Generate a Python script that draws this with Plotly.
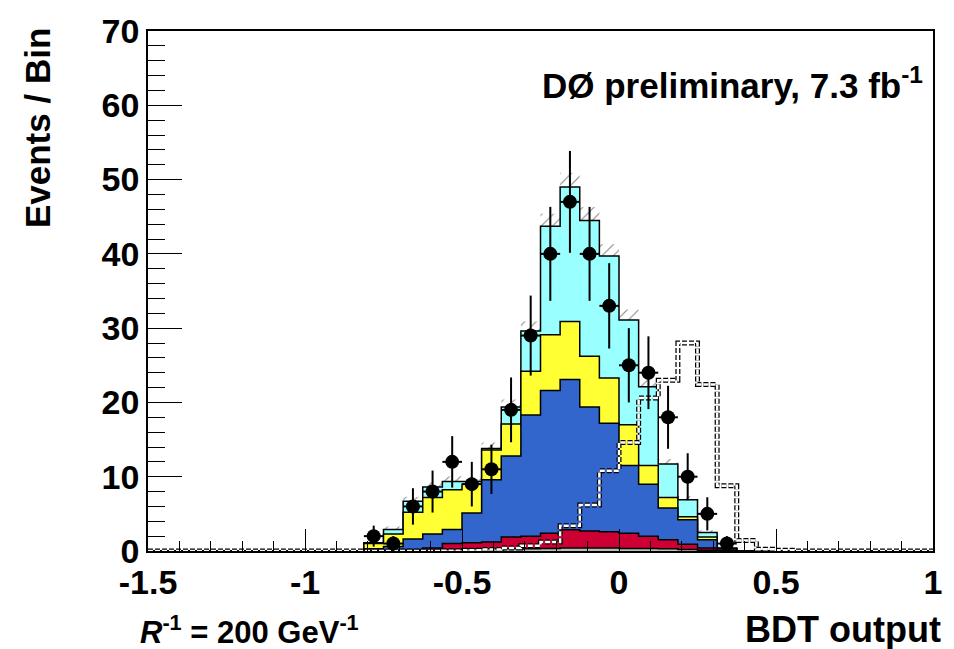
import numpy as np
import plotly.graph_objects as go

# ---------------- data ----------------
x_min, x_max, n_bins = -1.5, 1.0, 40
first_bin = 11  # populated background/data bins start at bin 11 (x=-0.8125)

# background components (stacked, bottom to top), bins 11..29
bkg_gray = [0.05, 0.05, 0.1, 0.1, 0.2, 0.3, 0.3, 0.3, 0.3, 0.35, 0.4, 0.4, 0.4, 0.35, 0.35, 0.3, 0.2, 0.1, 0.05]
bkg_red = [0.05, 0.1, 0.1, 0.3, 0.8, 0.8, 0.9, 1.6, 1.7, 2.05, 2.45, 2.3, 2.2, 2.05, 1.65, 1.2, 0.7, 0.3, 0.05]
bkg_blue = [0.2, 0.45, 1.4, 1.9, 1.9, 4.0, 8.4, 10.9, 16.3, 19.2, 20.25, 16.7, 14.6, 9.1, 7.0, 4.3, 3.3, 1.1, 0.2]
bkg_yellow = [0.7, 1.7, 3.6, 4.9, 5.35, 3.9, 4.0, 4.3, 5.9, 7.5, 7.8, 6.8, 6.1, 5.5, 2.5, 1.4, 0.4, 0.4, 0.05]
bkg_cyan = [0.1, 0.6, 1.5, 1.4, 1.1, 0.35, 0.2, 2.3, 5.4, 14.6, 18.1, 18.3, 16.4, 14.1, 10.6, 4.5, 2.3, 0.6, 0.05]
bkg_unc = [0.3, 0.4, 0.6, 0.7, 0.7, 0.7, 0.8, 1.0, 1.3, 1.7, 1.9, 1.8, 1.6, 1.4, 1.1, 0.7, 0.5, 0.3, 0.2]

data_counts = [2, 1, 6, 8, 12, 9, 11, 19, 29, 40, 47, 40, 33, 25, 24, 18, 10, 5, 1]

# signal (all 40 bins)
signal = [0, 0, 0, 0, 0, 0, 0, 0, 0, 0,
          0, 0, 0, 0, 0, 0.05, 0.1, 0.2, 0.4, 0.7,
          1.2, 3.4, 6.2, 10.8, 14.6, 20.6, 23.0, 28.0, 22.4, 8.8,
          1.4, 0.25, 0.1, 0, 0, 0, 0, 0, 0, 0]

x_ticks = [-1.5, -1.0, -0.5, 0.0, 0.5, 1.0]
x_tick_text = ["-1.5", "-1", "-0.5", "0", "0.5", "1"]
y_ticks = [0, 10, 20, 30, 40, 50, 60, 70]

# ---------------- helpers ----------------
edges = np.linspace(x_min, x_max, n_bins + 1)
bw = edges[1] - edges[0]
centers = 0.5 * (edges[:-1] + edges[1:])


def full(vals):
    arr = np.zeros(n_bins)
    arr[first_bin:first_bin + len(vals)] = vals
    return arr


def step_xy(vals):
    vals = list(vals)
    xs = [edges[0]] + list(edges) + [edges[-1]]
    ys = [0] + vals + [vals[-1]] + [0]
    return xs, ys


comps = [np.array(bkg_gray), np.array(bkg_red), np.array(bkg_blue),
         np.array(bkg_yellow), np.array(bkg_cyan)]
colors = ["#bdbdbd", "#cc0033", "#3366cc", "#ffff33", "#99ffff"]
cum = np.cumsum(np.vstack(comps), axis=0)

fig = go.Figure()

# stacked fills drawn from top (total) down
for i in range(len(comps) - 1, -1, -1):
    xs, ys = step_xy(full(cum[i]))
    fig.add_trace(go.Scatter(x=xs, y=ys, mode="lines", line_shape="hv",
                             fill="tozeroy", fillcolor=colors[i],
                             line=dict(color="black", width=1.5),
                             hoverinfo="skip", showlegend=False))

# signal: dashed black with white dashes
sx, sy = step_xy(signal)
fig.add_trace(go.Scatter(x=sx, y=sy, mode="lines", line_shape="hv",
                         line=dict(color="black", width=5, dash="5px,2px"),
                         hoverinfo="skip", showlegend=False))
fig.add_trace(go.Scatter(x=sx, y=sy, mode="lines", line_shape="hv",
                         line=dict(color="white", width=2.5, dash="5px,2px"),
                         hoverinfo="skip", showlegend=False))

# uncertainty hatch band
total = cum[-1]
unc = np.array(bkg_unc)
c_pop = centers[first_bin:first_bin + len(total)]
fig.add_trace(go.Bar(x=c_pop, y=2 * unc, base=total - unc, width=bw,
                     marker=dict(color="rgba(0,0,0,0)", line=dict(width=0),
                                 pattern=dict(shape="/", fgcolor="black",
                                              bgcolor="rgba(0,0,0,0)",
                                              size=8, solidity=0.12)),
                     hoverinfo="skip", showlegend=False))

# data points
d = np.array(data_counts, dtype=float)
fig.add_trace(go.Scatter(x=c_pop, y=d, mode="markers",
                         marker=dict(color="black", size=14),
                         error_y=dict(type="data", array=np.sqrt(d), color="black",
                                      thickness=2, width=0),
                         error_x=dict(type="constant", value=bw / 2, color="black",
                                      thickness=2, width=0),
                         showlegend=False))

# ---------------- layout ----------------
W, H = 954, 649
L, R, T, B = 148, 14, 23, 98
pw, ph = W - L - R, H - T - B


def px(xp):
    return (xp - L) / pw


def py(yp):
    return (H - B - yp) / ph


font_family = "Liberation Sans, Arial, sans-serif"
tick_font = dict(family=font_family, size=34, color="black", weight="bold")

fig.update_layout(
    width=W, height=H,
    margin=dict(l=L, r=R, t=T, b=B, pad=0),
    paper_bgcolor="white", plot_bgcolor="white",
    barmode="overlay", showlegend=False,
    xaxis=dict(range=[x_min, x_max], tickvals=x_ticks, ticktext=x_tick_text,
               ticks="inside", ticklen=22, tickwidth=1, tickcolor="black",
               minor=dict(dtick=0.1, tick0=-1.5, ticks="inside", ticklen=10,
                          tickcolor="black", tickwidth=1, showgrid=False),
               showline=True, linecolor="black", linewidth=1.5, mirror=True,
               showgrid=False, zeroline=False, tickfont=tick_font),
    yaxis=dict(range=[0, 70], tickvals=y_ticks,
               ticks="inside", ticklen=34, tickwidth=1, tickcolor="black",
               minor=dict(dtick=2, tick0=0, ticks="inside", ticklen=17,
                          tickcolor="black", tickwidth=1, showgrid=False),
               showline=True, linecolor="black", linewidth=1.5, mirror=True,
               showgrid=False, zeroline=False, tickfont=tick_font),
)


def afont(size):
    return dict(family=font_family, size=size, color="black", weight="bold")


fig.add_annotation(x=px(932), y=py(76), xref="paper", yref="paper",
                   text="DØ preliminary, 7.3 fb<sup>-1</sup>", showarrow=False,
                   xanchor="right", yanchor="middle", font=afont(35))
fig.add_annotation(x=px(36), y=py(18), xref="paper", yref="paper",
                   text="Events / Bin", showarrow=False, textangle=-90,
                   xanchor="center", yanchor="top", font=afont(35))
fig.add_annotation(x=px(950), y=py(631), xref="paper", yref="paper",
                   text="BDT output", showarrow=False,
                   xanchor="right", yanchor="middle", font=afont(36))
fig.add_annotation(x=px(138), y=py(631), xref="paper", yref="paper",
                   text="<i>R</i><sup>-1</sup> = 200 GeV<sup>-1</sup>", showarrow=False,
                   xanchor="left", yanchor="middle", font=afont(31))

fig.write_html("out.html")
